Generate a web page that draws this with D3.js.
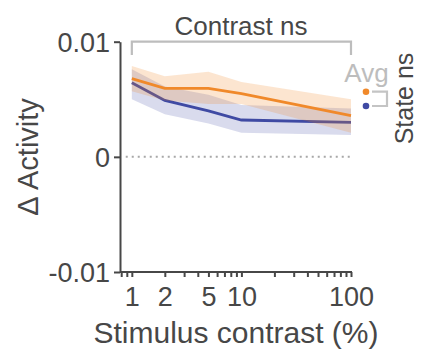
<!DOCTYPE html>
<html>
<head>
<meta charset="utf-8">
<script src="https://cdn.jsdelivr.net/npm/d3@7"></script>
<style>
  body { margin: 0; background: #fff; }
  svg text { font-family: "Liberation Sans", Arial, sans-serif; fill: #474747; }
  .axis path, .axis line { stroke: #474747; stroke-width: 2; }
  .axis text { font-size: 27px; }
</style>
</head>
<body>
<div id="chart"></div>
<script>
// Stimulus contrast (%) on a log axis
const contrasts = [1, 2, 5, 10, 100];

// "Avg" condition (orange): mean and shaded error band
const avgMean = [0.0068, 0.00595, 0.00595, 0.0055, 0.00357];
const avgLow  = [0.0057, 0.0049, 0.0046, 0.0046, 0.0021];
const avgHigh = [0.0079, 0.0070, 0.0074, 0.0065, 0.0050];

// "State" condition (blue)
const stateMean = [0.00643, 0.0049, 0.0040, 0.0032, 0.0030];
const stateLow  = [0.0050, 0.0037, 0.0029, 0.0021, 0.0019];
const stateHigh = [0.0076, 0.0061, 0.0054, 0.0045, 0.0042];

// Axis ticks
const xTicks = [0.8, 0.9, 1, 2, 3, 4, 5, 6, 7, 8, 9, 10, 20, 30, 40, 50, 60, 70, 80, 90, 100];
const xLabels = [1, 2, 5, 10, 100];
const yTicks = [-0.01, 0, 0.01];
const yTickLabels = ['-0.01', '0', '0.01'];

const orange = '#f0892a';
const blue = '#3f4aa3';

const width = 421, height = 358;

const svg = d3.select('#chart').append('svg')
    .attr('width', width)
    .attr('height', height);

// Scales
const xScale = d3.scaleLog()
    .domain([0.78, 100])
    .range([120, 351]);

const yScale = d3.scaleLinear()
    .domain([-0.01, 0.01])
    .range([272, 41.7]);

// Zero reference line
svg.append('line')
    .attr('x1', xScale(0.88)).attr('x2', xScale(100))
    .attr('y1', yScale(0)).attr('y2', yScale(0))
    .attr('stroke', '#a8a8a8')
    .attr('stroke-width', 2)
    .attr('stroke-dasharray', '2,4');

const area = (lo, hi) => d3.area()
    .x((d, i) => xScale(contrasts[i]))
    .y0((d, i) => yScale(lo[i]))
    .y1((d, i) => yScale(hi[i]));

const line = vals => d3.line()
    .x((d, i) => xScale(contrasts[i]))
    .y((d, i) => yScale(vals[i]));

// State band + line first, then the Avg band over it
svg.append('path')
    .datum(contrasts)
    .attr('d', area(stateLow, stateHigh))
    .attr('fill', blue)
    .attr('fill-opacity', 0.2);

svg.append('path')
    .datum(contrasts)
    .attr('d', line(stateMean))
    .attr('fill', 'none')
    .attr('stroke', blue)
    .attr('stroke-width', 2.8);

svg.append('path')
    .datum(contrasts)
    .attr('d', area(avgLow, avgHigh))
    .attr('fill', orange)
    .attr('fill-opacity', 0.22);

svg.append('path')
    .datum(contrasts)
    .attr('d', line(avgMean))
    .attr('fill', 'none')
    .attr('stroke', orange)
    .attr('stroke-width', 2.8);

// Axes
const xAxis = d3.axisBottom(xScale)
    .tickValues(xTicks)
    .tickSize(5)
    .tickSizeOuter(0)
    .tickPadding(10)
    .tickFormat(d => xLabels.includes(d) ? d : '');

const yAxis = d3.axisLeft(yScale)
    .tickValues(yTicks)
    .tickSize(6)
    .tickSizeOuter(0)
    .tickPadding(4)
    .tickFormat((d, i) => yTickLabels[i]);

svg.append('g')
    .attr('class', 'axis x-axis')
    .attr('transform', `translate(0,${yScale(-0.01)})`)
    .call(xAxis)
    .call(g => g.select('.domain').attr('d', `M${xScale(0.78)},0H${xScale(100) + 1}`));

svg.append('g')
    .attr('class', 'axis y-axis')
    .attr('transform', 'translate(120,0)')
    .call(yAxis)
    .call(g => g.selectAll('text').attr('dy', '0.35em'));

// Axis titles
svg.append('text')
    .attr('x', 236)
    .attr('y', 343)
    .attr('text-anchor', 'middle')
    .attr('font-size', 30)
    .text('Stimulus contrast (%)');

svg.append('text')
    .attr('transform', 'translate(38,157) rotate(-90)')
    .attr('text-anchor', 'middle')
    .attr('font-size', 29)
    .text('Δ Activity');

// Contrast bracket across the top
svg.append('path')
    .attr('d', `M${xScale(1)},55V41.7H${xScale(100)}V55`)
    .attr('fill', 'none')
    .attr('stroke', '#bdbdbd')
    .attr('stroke-width', 2.2);

svg.append('text')
    .attr('x', 241)
    .attr('y', 35)
    .attr('text-anchor', 'middle')
    .attr('font-size', 26)
    .text('Contrast ns');

// State legend on the right
svg.append('text')
    .attr('x', 366.5)
    .attr('y', 82)
    .attr('text-anchor', 'middle')
    .attr('font-size', 26)
    .style('fill', '#bdbdbd')
    .text('Avg');

svg.append('circle').attr('cx', 366).attr('cy', 91.7).attr('r', 3.3).attr('fill', orange);
svg.append('circle').attr('cx', 366).attr('cy', 106).attr('r', 3.3).attr('fill', blue);

svg.append('path')
    .attr('d', 'M372,91.7H387V106H372')
    .attr('fill', 'none')
    .attr('stroke', '#c4c4c4')
    .attr('stroke-width', 2.2);

svg.append('text')
    .attr('transform', 'translate(413,98.5) rotate(-90)')
    .attr('text-anchor', 'middle')
    .attr('font-size', 25)
    .text('State ns');
</script>
</body>
</html>
